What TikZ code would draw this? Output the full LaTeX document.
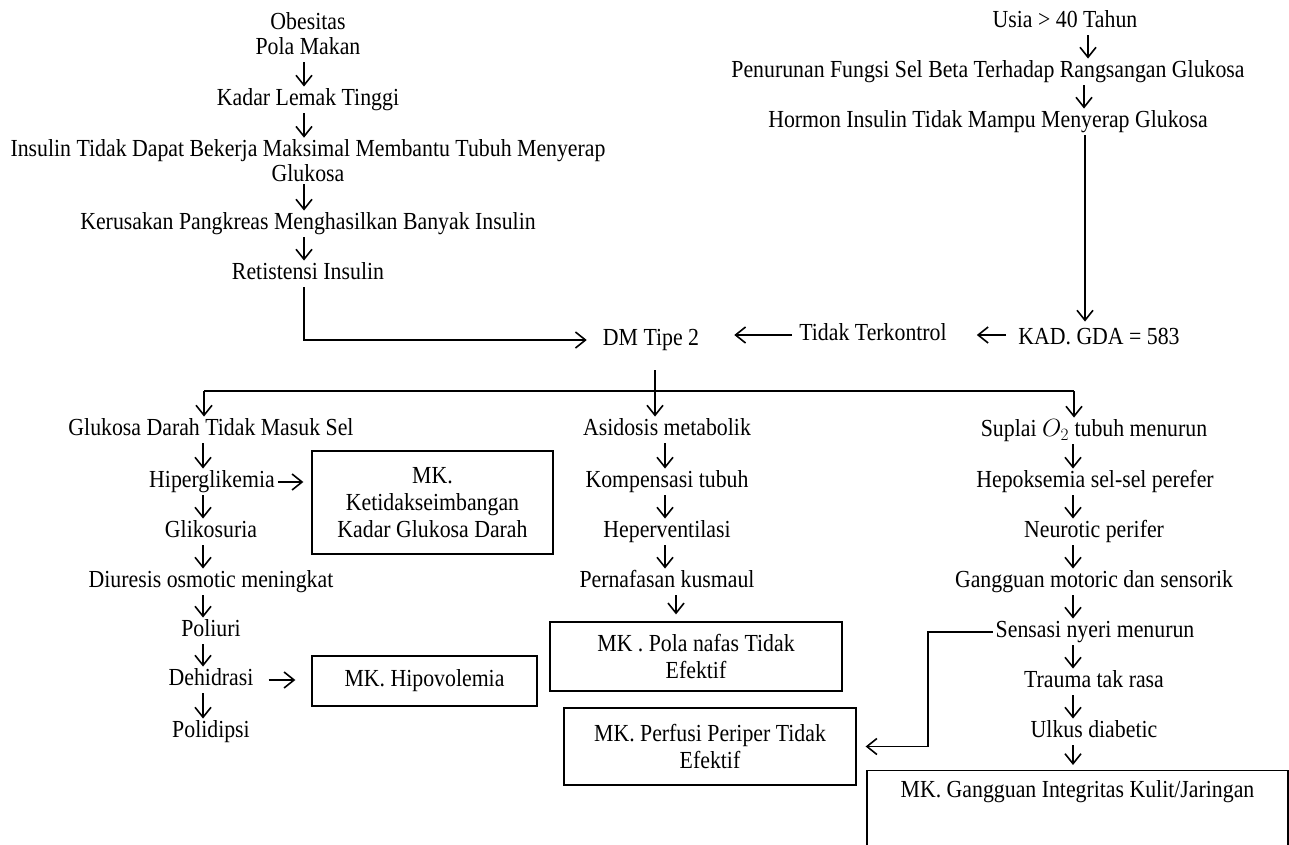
\documentclass[tikz,border=0pt]{standalone}
\usepackage{fontspec}
\setmainfont{Liberation Serif}[FakeStretch=0.89]
\usetikzlibrary{arrows.meta}
\begin{document}
\begin{tikzpicture}[x=1pt,y=-1pt,
  every node/.style={font=\fontsize{24.5}{27}\selectfont},
  lbl/.style={inner xsep=3pt, inner ysep=2pt, text height=17pt, text depth=5.5pt},
  mk/.style={draw, line width=1.3pt, align=center, inner sep=0pt},
  ln/.style={line width=1.6pt},
  arr/.style={line width=1.6pt, -{Straight Barb[length=10pt,width=16pt]}}
]
\useasboundingbox (0,0) rectangle (1289,844);
\fill[white] (0,0) rectangle (1289,844);

% column coordinates for arrows
\coordinate (cTL) at (304,0);
\coordinate (cTR1) at (1088,0);
\coordinate (cTR2) at (1084,0);
\coordinate (cTR3) at (1085,0);
\coordinate (cL) at (203,0);
\coordinate (cM) at (665,0);
\coordinate (cPer) at (676,0);
\coordinate (cR) at (1073,0);
\coordinate (sx) at (928,0);
\coordinate (bL) at (204,391);
\coordinate (bM) at (655,391);
\coordinate (bR) at (1074,391);

% top left
\node[lbl] (ob) at (308,24) {Obesitas};
\node[lbl] (pm) at (308,49) {Pola Makan};
\node[lbl] (kl) at (308,100) {Kadar Lemak Tinggi};
\node[align=center, inner sep=2pt, font=\fontsize{24.5}{25}\selectfont] (ins) at (308,161) {Insulin Tidak Dapat Bekerja Maksimal Membantu Tubuh Menyerap\\Glukosa};
\node[lbl] (ker) at (308,224) {Kerusakan Pangkreas Menghasilkan Banyak Insulin};
\node[lbl] (ret) at (308,274) {Retistensi Insulin};

% top right
\node[lbl] (usia) at (1065,22) {Usia > 40 Tahun};
\node[lbl] (pen) at (988,72) {Penurunan Fungsi Sel Beta Terhadap Rangsangan Glukosa};
\node[lbl] (hor) at (988,122) {Hormon Insulin Tidak Mampu Menyerap Glukosa};
\node[lbl] (kad) at (1099,339) {KAD. GDA = 583};
\node[lbl] (tt) at (873,335) {Tidak Terkontrol};
\node[lbl] (dm) at (651,340) {DM Tipe 2};

% left column
\node[lbl] (glu) at (211,430) {Glukosa Darah Tidak Masuk Sel};
\node[lbl] (hip) at (212,482) {Hiperglikemia};
\node[lbl] (gli) at (211,532) {Glikosuria};
\node[lbl] (diu) at (211,582) {Diuresis osmotic meningkat};
\node[lbl] (pol) at (211,631) {Poliuri};
\node[lbl] (deh) at (211,680) {Dehidrasi};
\node[lbl] (pld) at (211,732) {Polidipsi};

% middle column
\node[lbl] (asi) at (667,430) {Asidosis metabolik};
\node[lbl] (kom) at (667,482) {Kompensasi tubuh};
\node[lbl] (hep) at (667,532) {Heperventilasi};
\node[lbl] (per) at (667,582) {Pernafasan kusmaul};

% right column
\node[lbl] (sup) at (1094,431) {Suplai $O_2$ tubuh menurun};
\node[lbl] (hpk) at (1095,482) {Hepoksemia sel-sel perefer};
\node[lbl] (neu) at (1094,532) {Neurotic perifer};
\node[lbl] (gm) at (1094,582) {Gangguan motoric dan sensorik};
\node[lbl] (sen) at (1095,632) {Sensasi nyeri menurun};
\node[lbl] (tr) at (1094,682) {Trauma tak rasa};
\node[lbl] (ul) at (1094,732) {Ulkus diabetic};

% boxes
\node[mk, minimum width=241pt, minimum height=103pt] (k1) at (432.5,502.5) {MK.\\Ketidakseimbangan\\Kadar Glukosa Darah};
\node[mk, minimum width=225pt, minimum height=50pt] (hipo) at (424.5,681) {MK. Hipovolemia};
\node[mk, minimum width=292pt, minimum height=69pt] (pola) at (696,656.5) {MK . Pola nafas Tidak\\Efektif};
\node[mk, minimum width=292pt, minimum height=77pt] (perf) at (710,746.5) {MK. Perfusi Periper Tidak\\Efektif};
\node[mk, anchor=north, minimum width=421pt, minimum height=100pt, text height=17pt, text depth=63pt] (gg) at (1077.5,770) {MK. Gangguan Integritas Kulit/Jaringan};

% top-left chain
\draw[arr] (pm.south -| cTL) -- (kl.north -| cTL);
\draw[arr] (kl.south -| cTL) -- (ins.north -| cTL);
\draw[arr] (ins.south -| cTL) -- (ker.north -| cTL);
\draw[arr] (ker.south -| cTL) -- (ret.north -| cTL);
\draw[arr, shorten >=13pt] (ret.south -| cTL) |- (dm.west);

% top-right chain
\draw[arr] (usia.south -| cTR1) -- (pen.north -| cTR1);
\draw[arr] (pen.south -| cTR2) -- (hor.north -| cTR2);
\draw[arr, shorten >=4pt] (hor.south -| cTR3) -- (kad.north -| cTR3);
\draw[arr, shorten <=9pt, shorten >=27pt] (kad.west |- tt.east) -- (tt.east);
\draw[arr, shorten <=4pt, shorten >=32pt] (tt.west) -- (tt.west -| dm.east);

% branch
\draw[ln, shorten <=17pt] (dm.south -| bM) -- (bM);
\draw[ln] (bL) -- (bR);
\draw[arr] (bL) -- (glu.north -| bL);
\draw[arr] (bM) -- (asi.north -| bM);
\draw[arr] (bR) -- (sup.north -| bR);

% left chain
\draw[arr] (glu.south -| cL) -- (hip.north -| cL);
\draw[arr] (hip.south -| cL) -- (gli.north -| cL);
\draw[arr] (gli.south -| cL) -- (diu.north -| cL);
\draw[arr] (diu.south -| cL) -- (pol.north -| cL);
\draw[arr] (pol.south -| cL) -- (deh.north -| cL);
\draw[arr] (deh.south -| cL) -- (pld.north -| cL);
\draw[arr, shorten >=8pt] (hip.east) -- (hip.east -| k1.west);
\draw[arr, shorten <=12pt, shorten >=16pt] (deh.east) -- (deh.east -| hipo.west);

% middle chain
\draw[arr] (asi.south -| cM) -- (kom.north -| cM);
\draw[arr] (kom.south -| cM) -- (hep.north -| cM);
\draw[arr] (hep.south -| cM) -- (per.north -| cM);
\draw[arr, shorten >=7pt] (per.south -| cPer) -- (pola.north -| cPer);

% right chain
\draw[arr] (sup.south -| cR) -- (hpk.north -| cR);
\draw[arr] (hpk.south -| cR) -- (neu.north -| cR);
\draw[arr] (neu.south -| cR) -- (gm.north -| cR);
\draw[arr] (gm.south -| cR) -- (sen.north -| cR);
\draw[arr] (sen.south -| cR) -- (tr.north -| cR);
\draw[arr] (tr.south -| cR) -- (ul.north -| cR);
\draw[arr, shorten >=5pt] (ul.south -| cR) -- (gg.north -| cR);
\draw[arr, shorten >=9pt] (sen.west) -- (sen.west -| sx) |- (perf.east);
\end{tikzpicture}
\end{document}
